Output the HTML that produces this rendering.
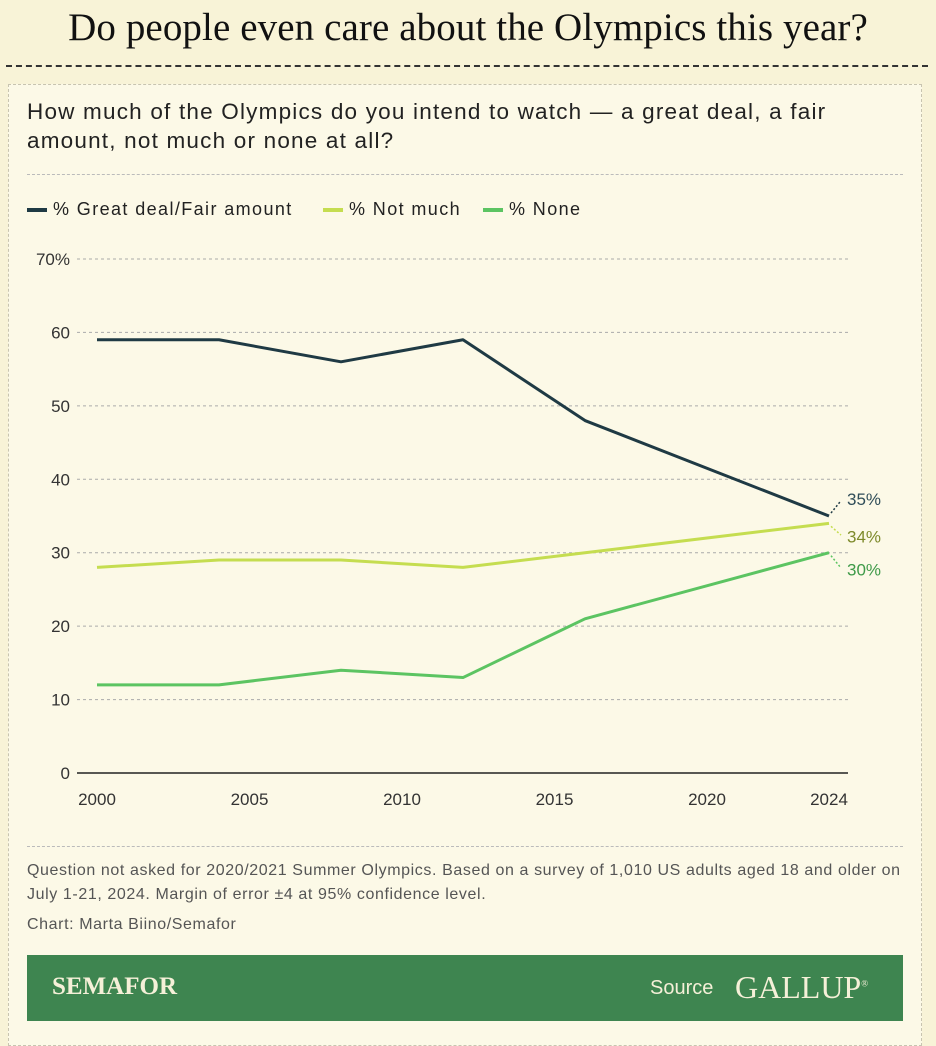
<!DOCTYPE html>
<html><head><meta charset="utf-8"><style>
body{margin:0;width:936px;height:1033px;background:#f8f3d7;position:relative;overflow:hidden;font-family:"Liberation Sans",sans-serif}
#title{position:absolute;top:5px;left:0;width:936px;text-align:center;font-family:"Liberation Serif",serif;font-size:39px;color:#111;letter-spacing:0.1px;white-space:nowrap}
#sep{position:absolute;top:65px;left:6px;width:922px;border-top:2px dashed #333}
#panel{position:absolute;top:84px;left:8px;width:912px;height:960px;background:#fcf9e7;border:1px dashed #c8c4b0}
#q{position:absolute;top:97px;left:27px;width:880px;font-size:22.5px;line-height:29px;color:#222;white-space:nowrap;letter-spacing:1.2px}
#hr1{position:absolute;top:174px;left:27px;width:876px;border-top:1px dashed #bbb}
#hr2{position:absolute;top:846px;left:27px;width:876px;border-top:1px dashed #bbb}
.leg{position:absolute;top:199px;font-size:18px;color:#222;display:flex;align-items:center;white-space:nowrap;letter-spacing:1.4px}
.leg i{display:inline-block;width:20px;height:4px;margin-right:6px}
#note{position:absolute;top:859px;left:27px;width:890px;font-size:16px;line-height:24px;color:#555;white-space:nowrap;letter-spacing:0.6px}
#credit{position:absolute;top:916px;left:27px;font-size:16px;color:#555;letter-spacing:0.6px}
#banner{position:absolute;top:955px;left:27px;width:876px;height:66px;background:#3e8550;color:#f5f0d8}
</style></head><body>
<div id="title">Do people even care about the Olympics this year?</div>
<div id="sep"></div>
<div id="panel"></div>
<div id="q">How much of the Olympics do you intend to watch — a great deal, a fair<br>amount, not much or none at all?</div>
<div id="hr1"></div>
<div class="leg" style="left:27px"><i style="background:#1f3a44"></i>% Great deal/Fair amount</div>
<div class="leg" style="left:323px"><i style="background:#c5dd50"></i>% Not much</div>
<div class="leg" style="left:483px"><i style="background:#5cc462"></i>% None</div>
<svg id="chart" width="936" height="1033" style="position:absolute;left:0;top:0"></svg>
<div id="hr2"></div>
<div id="note">Question not asked for 2020/2021 Summer Olympics. Based on a survey of 1,010 US adults aged 18 and older on<br>July 1-21, 2024. Margin of error ±4 at 95% confidence level.</div>
<div id="credit">Chart: Marta Biino/Semafor</div>
<div id="banner">
<span style="position:absolute;left:25px;top:18px;font-family:'Liberation Serif',serif;font-weight:bold;font-size:25px">SEMAFOR</span>
<span style="position:absolute;left:623px;top:22px;font-size:20px">Source</span>
<span style="position:absolute;left:708px;top:14px;font-family:'Liberation Serif',serif;font-size:32px">GALLUP<sup style="font-size:9px">®</sup></span>
</div>
<script>
const years=[2000,2004,2008,2012,2016,2024];
const greatDeal=[59,59,56,59,48,35];
const notMuch=[28,29,29,28,30,34];
const none=[12,12,14,13,21,30];
const yTicks=[0,10,20,30,40,50,60,70];
const xTicks=[2000,2005,2010,2015,2020,2024];
const NS="http://www.w3.org/2000/svg";
const svg=document.getElementById('chart');
const x=y=>97+(y-2000)*(829-97)/24;
const yv=v=>773-v*(773-259)/70;
function mk(t,a){const e=document.createElementNS(NS,t);for(const k in a)e.setAttribute(k,a[k]);svg.appendChild(e);return e;}
yTicks.forEach(t=>{
 if(t>0){const g=mk('line',{x1:77,x2:848,y1:yv(t),y2:yv(t),stroke:'#aaa','stroke-dasharray':'3,3'});
 
 }
 const l=mk('text',{x:70,y:yv(t)+6,'text-anchor':'end','font-size':17,fill:'#333','font-family':'Liberation Sans'});
 l.textContent=t===70?'70%':t;
 
 
});
const ax=mk('line',{x1:77,x2:848,y1:773,y2:773,stroke:'#222','stroke-width':1.5});


xTicks.forEach(t=>{
 const l=mk('text',{x:x(t),y:805,'text-anchor':'middle','font-size':17,fill:'#333','font-family':'Liberation Sans'});
 l.textContent=t;
 
 
});
const series=[[greatDeal,'#1f3a44','#2f4d58','great-deal',-17],[notMuch,'#c5dd50','#7d8a2a','not-much',13],[none,'#5cc462','#3e9a48','none',17]];
series.forEach(([d,c,tc,n,dy])=>{
 const p=mk('polyline',{points:years.map((y,i)=>x(y)+','+yv(d[i])).join(' '),fill:'none',stroke:c,'stroke-width':3,'stroke-linejoin':'round'});
 
 
 const last=d[d.length-1],lx=x(years[years.length-1]),ly=yv(last);
 const ld=mk('line',{x1:lx+2,y1:ly+(dy<0?-3:3),x2:lx+12,y2:ly+dy*0.9,stroke:c,'stroke-width':1.5,'stroke-dasharray':'2,2'});
 
 
 const t=mk('text',{x:lx+18,y:ly+dy+6,'font-size':17,fill:tc,'font-family':'Liberation Sans'});
 t.textContent=last+'%';
 
 
});
</script>
</body></html>
